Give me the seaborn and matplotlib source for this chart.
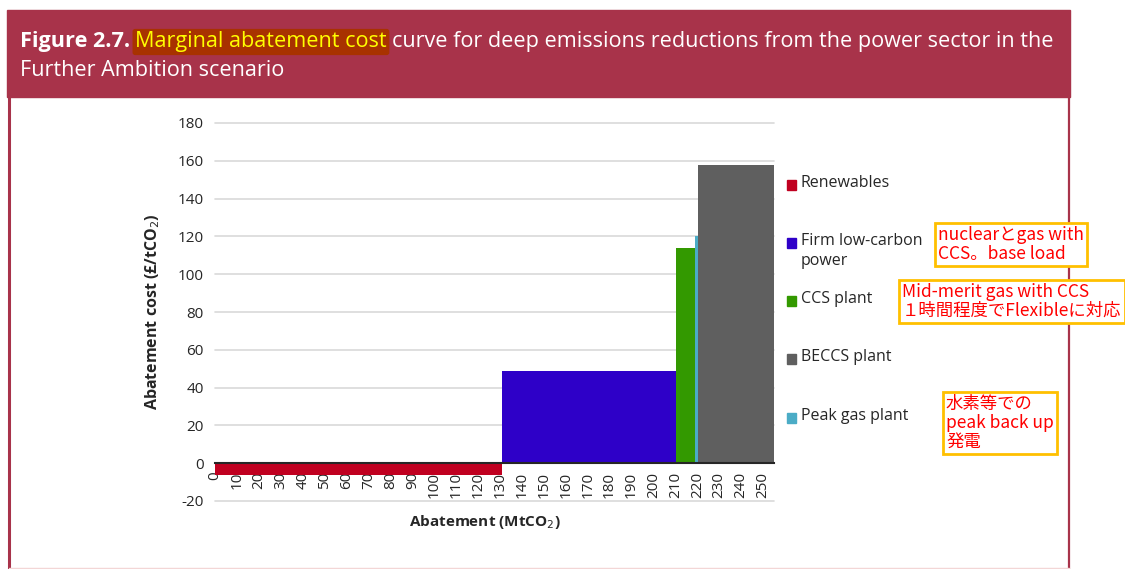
import numpy as np
import matplotlib.pyplot as plt
from matplotlib.patches import Rectangle
from matplotlib.lines import Line2D
import seaborn as sns

# MAC curve blocks, in the order they sit along the abatement axis
technologies = ["Renewables", "Firm low-carbon\npower", "CCS plant", "Peak gas plant", "BECCS plant"]
abatement = [131, 79.5, 8.5, 1.5, 34.5]   # MtCO2, width of each block
cost = [-6, 49, 114, 120, 158]            # GBP/tCO2, height of each block
colors = ["#C00020", "#2E00C8", "#339900", "#4BACC6", "#5F5F5F"]
legend_order = ["Renewables", "Firm low-carbon\npower", "CCS plant", "BECCS plant", "Peak gas plant"]

x_ticks = list(range(0, 251, 10))
y_ticks = list(range(-20, 181, 20))

notes = ["nuclearとgas with\nCCS。base load",
         "Mid-merit gas with CCS\n１時間程度でFlexibleに対応",
         "水素等での\npeak back up\n発電"]

sns.set_style("white")
plt.rcParams['font.family'] = ['Open Sans', 'DejaVu Sans']

W, H = 1125, 569
fig = plt.figure(figsize=(W / 100, H / 100), dpi=100)


def fx(px):
    return px / W


def fy(py):
    return 1 - py / H


# Header band and frame
maroon = '#A8334A'
fig.add_artist(Rectangle((fx(7), fy(97)), fx(1070) - fx(7), fy(10) - fy(97),
                         transform=fig.transFigure, color=maroon, zorder=0))
fig.add_artist(Line2D([fx(8.5), fx(8.5)], [fy(97), 0], transform=fig.transFigure,
                      color=maroon, lw=2.2))
fig.add_artist(Line2D([fx(1068.5), fx(1068.5)], [fy(97), 0], transform=fig.transFigure,
                      color=maroon, lw=1.6))
fig.add_artist(Line2D([fx(8.5), fx(1068.5)], [fy(568), fy(568)], transform=fig.transFigure,
                      color='#F3D6D6', lw=1))

# Title, built from pieces so the highlighted words can sit inline
renderer = fig.canvas.get_renderer()
title_size = 15.6
x = 20
pieces = [("Figure 2.7.", 'bold', 'white', None),
          ("Marginal abatement cost", 'normal', '#FFFF00', dict(boxstyle='round,pad=0.12', fc='#A83200', ec='none')),
          ("curve for deep emissions reductions from the power sector in the", 'normal', 'white', None)]
for txt, weight, col, box in pieces:
    t = fig.text(fx(x), fy(42), txt, color=col, fontsize=title_size, fontweight=weight,
                 va='center', ha='left', bbox=box)
    bb = t.get_window_extent(renderer)
    x = bb.x1 + 5
fig.text(fx(20), fy(70), "Further Ambition scenario", color='white', fontsize=title_size,
         va='center', ha='left')

# Chart
ax = fig.add_axes([fx(215), fy(501), (774 - 215) / W, (501 - 123) / H])
lefts = np.concatenate([[0], np.cumsum(abatement)[:-1]])
ax.bar(lefts, cost, width=abatement, align='edge', color=colors, linewidth=0, zorder=1)

for v in y_ticks:
    if v != 0:
        ax.axhline(v, color='#D9D9D9', lw=1.2, zorder=0.5, clip_on=False)

# spine position first: moving it resets the ticks
sns.despine(ax=ax, left=True, top=True, right=True)
ax.spines['bottom'].set_position(('data', 0))
ax.spines['bottom'].set_color('#262626')
ax.spines['bottom'].set_linewidth(1.5)

ax.set_xlim(0, 255)
ax.set_ylim(-20, 180)
ax.set_xticks(x_ticks)
ax.set_xticklabels([str(v) for v in x_ticks], rotation=90, va='top', ha='center')
ax.set_yticks(y_ticks)
ax.set_yticklabels([str(v) for v in y_ticks])
ax.tick_params(axis='x', direction='out', length=5, width=1.2, color='#262626', pad=1,
               labelsize=11, labelcolor='#262626', labelrotation=90)
ax.tick_params(axis='y', length=0, pad=8, labelsize=11, labelcolor='#262626')

ax.set_ylabel("Abatement cost (£/tCO$_2$)", fontsize=11.5, fontweight='bold', color='#262626',
              labelpad=11)
ax.set_xlabel("Abatement (MtCO$_2$)", fontsize=11, fontweight='bold', color='#262626')
ax.xaxis.set_label_coords(0.483, -0.033)

# Legend, laid out by hand to keep the source spacing
legend_y = [185, 243, 301, 359, 418]
color_of = dict(zip(technologies, colors))
for name, ly in zip(legend_order, legend_y):
    fig.add_artist(Rectangle((fx(787), fy(ly + 5)), 9 / W, 10 / H, transform=fig.transFigure,
                             color=color_of[name]))
    fig.text(fx(801), fy(ly - 10), name, fontsize=11.5, color='#262626', va='top', ha='left',
             linespacing=1.3)

# Japanese annotation boxes
note_pos = [(938, 226), (902, 283), (946, 395)]
for txt, (nx, ny) in zip(notes, note_pos):
    fig.text(fx(nx), fy(ny), txt, fontsize=12.5, color='#FF0000', va='top', ha='left',
             family=['Noto Sans CJK JP', 'DejaVu Sans'], linespacing=1.05,
             bbox=dict(boxstyle='square,pad=0.2', fc='white', ec='#FFC000', lw=2))

fig.savefig("out.png", dpi=100)
